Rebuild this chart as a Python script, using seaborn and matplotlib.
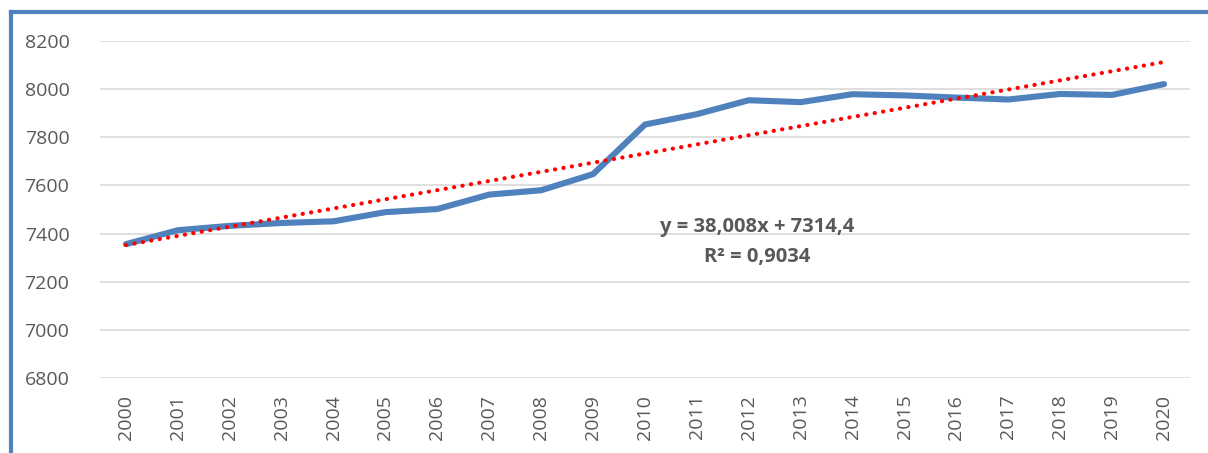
import matplotlib
matplotlib.use("Agg")
import matplotlib.pyplot as plt
from matplotlib.lines import Line2D
import numpy as np
import pandas as pd
import seaborn as sns

years = list(range(2000, 2021))
values = [7356, 7414, 7432, 7444, 7451, 7489, 7502, 7562, 7580, 7647, 7853,
          7896, 7954, 7946, 7979, 7974, 7965, 7957, 7980, 7976, 8021]
y_ticks = [6800, 7000, 7200, 7400, 7600, 7800, 8000, 8200]

# linear trend as given on the chart (x = 1 for the first year)
slope = 38.008
intercept = 7314.4
eq_text = "y = 38,008x + 7314,4"
r2_text = "R² = 0,9034"

data = pd.DataFrame({"Year": years, "Value": values})
data["Trend"] = intercept + slope * (data["Year"] - years[0] + 1)

grey = "#595959"
blue = "#4F81BD"

sns.set_theme(style="white", rc={"axes.spines.top": False, "axes.spines.right": False,
                                 "axes.spines.left": False, "axes.spines.bottom": False})
plt.rcParams["font.family"] = ["Open Sans", "DejaVu Sans"]

fig = plt.figure(figsize=(12.08, 4.53), dpi=100)
ax = fig.add_axes([100 / 1208, 1 - 378 / 453, 1090 / 1208, 337 / 453])

for t in y_ticks:
    ax.axhline(t, color="#D9D9D9", lw=1.2, zorder=0)

sns.lineplot(data=data, x="Year", y="Value", ax=ax, color=blue, lw=4.4,
             solid_capstyle="round", solid_joinstyle="round", zorder=2)
sns.lineplot(data=data, x="Year", y="Trend", ax=ax, color="#FF0000", lw=3.0,
             linestyle=(0, (0.05, 2.0)), dash_capstyle="round", zorder=3)

ax.set_xlim(years[0] - 0.5, years[-1] + 0.5)
ax.set_ylim(y_ticks[0], y_ticks[-1])
ax.set_xticks(years)
ax.set_xticklabels([str(y) for y in years], rotation=90)
ax.set_yticks(y_ticks)
ax.tick_params(axis="x", length=0, pad=12, labelsize=14, labelcolor=grey)
ax.tick_params(axis="y", length=0, pad=22, labelsize=14, labelcolor=grey)
ax.set_xlabel("")
ax.set_ylabel("")

ax.text(0.603, 0.447, eq_text, transform=ax.transAxes, ha="center", va="center",
        fontsize=14.5, fontweight="bold", color=grey)
ax.text(0.603, 0.360, r2_text, transform=ax.transAxes, ha="center", va="center",
        fontsize=14.5, fontweight="bold", color=grey)

# blue frame around the chart (left and top visible)
fig.add_artist(Line2D([11 / 1208, 11 / 1208], [0, 1 - 12 / 453], transform=fig.transFigure,
                      color=blue, lw=3.0, solid_capstyle="projecting"))
fig.add_artist(Line2D([11 / 1208, 1], [1 - 12 / 453, 1 - 12 / 453], transform=fig.transFigure,
                      color=blue, lw=3.0, solid_capstyle="projecting"))

plt.savefig("out.png", dpi=100)
